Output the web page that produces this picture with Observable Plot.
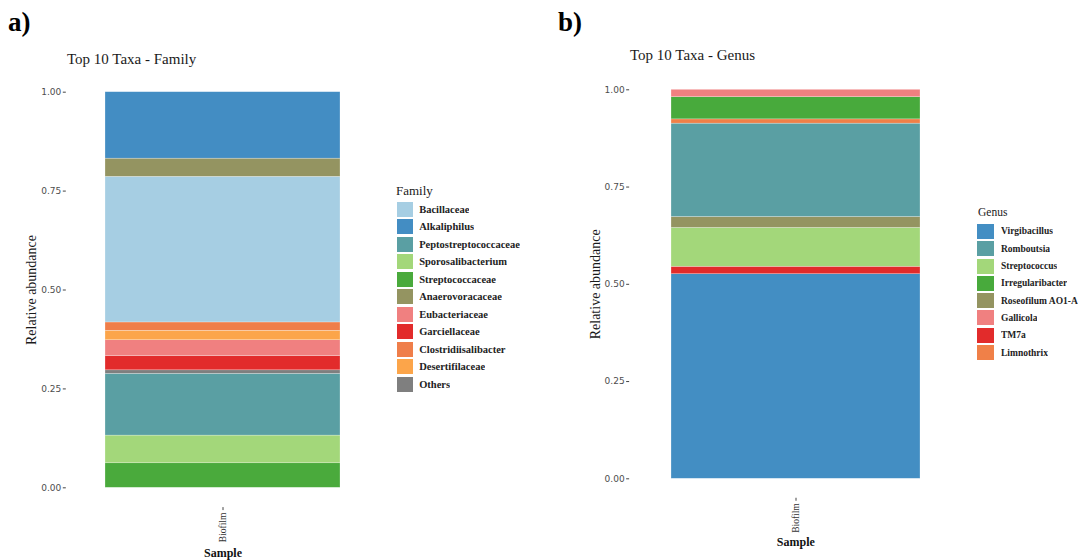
<!DOCTYPE html>
<html>
<head>
<meta charset="utf-8">
<script src="https://cdn.jsdelivr.net/npm/d3@7"></script>
<script src="https://cdn.jsdelivr.net/npm/@observablehq/plot@0.6"></script>
<style>
  body { margin: 0; background: #fff; }
  #page { position: relative; width: 1083px; height: 560px; overflow: hidden; font-family: "Liberation Serif", serif; background: #fff; }
  .abs { position: absolute; white-space: nowrap; }
  .panel-label { font-weight: bold; font-size: 27px; line-height: 27px; color: #000; }
  .title { font-size: 15px; line-height: 15px; color: #1a1a1a; }
  .legtitle { color: #1a1a1a; }
  [aria-label="y-axis label"] { font-family: "Liberation Serif", serif; font-size: 14px; fill: #1a1a1a; }
  [aria-label="x-axis label"] { font-family: "Liberation Serif", serif; font-size: 12px; font-weight: bold; fill: #111; }
  [aria-label="x-axis tick label"] { font-family: "Liberation Serif", serif; font-size: 9.5px; fill: #333; }
  .lega-swatches, .legb-swatches { margin: 0 !important; font-family: "Liberation Serif", serif; font-weight: bold; color: #222; }
  .lega-swatches { font-size: 10.5px; }
  .legb-swatches { font-size: 9.5px; }
  .lega-swatch { height: 17.5px; padding-bottom: 0 !important; }
  .legb-swatch { height: 17.3px; padding-bottom: 0 !important; }
  .lega-swatch > svg { margin-right: 6.5px; }
  .legb-swatch > svg { margin-right: 7px; }
</style>
</head>
<body>
<div id="page">
  <div class="abs panel-label" style="left:8px; top:9px;">a)</div>
  <div class="abs panel-label" style="left:558px; top:9px;">b)</div>
  <div class="abs title" style="left:67px; top:51.5px;">Top 10 Taxa - Family</div>
  <div class="abs title" style="left:630px; top:48px;">Top 10 Taxa - Genus</div>
  <div id="chartA" class="abs" style="left:0px; top:0px;"></div>
  <div id="chartB" class="abs" style="left:560px; top:0px;"></div>
  <div class="abs legtitle" style="left:396px; top:183.5px; font-size:13px; line-height:13px;">Family</div>
  <div class="abs legtitle" style="left:978px; top:207px; font-size:11.5px; line-height:11.5px;">Genus</div>
  <div id="legA" class="abs" style="left:396.7px; top:200.5px;"></div>
  <div id="legB" class="abs" style="left:977px; top:222.8px;"></div>
</div>
<script>
// ---- data ----
const sampleName = ["Biofilm"];
const yTicks = [0, 0.25, 0.5, 0.75, 1];

const familyNames = ["Bacillaceae", "Alkaliphilus", "Peptostreptococcaceae", "Sporosalibacterium", "Streptococcaceae", "Anaerovoracaceae", "Eubacteriaceae", "Garciellaceae", "Clostridiisalibacter", "Desertifilaceae", "Others"];
const familyValues = [0.368, 0.168, 0.156, 0.070, 0.062, 0.046, 0.040, 0.036, 0.021, 0.024, 0.009];
const familyColors = ["#a6cee3", "#438dc3", "#5a9fa3", "#a3d77a", "#4aaa3c", "#949461", "#f08080", "#e22b2b", "#ef7e4a", "#fca54a", "#7f7f7f"];

const genusNames = ["Virgibacillus", "Romboutsia", "Streptococcus", "Irregularibacter", "Roseofilum AO1-A", "Gallicola", "TM7a", "Limnothrix"];
const genusValues = [0.526, 0.240, 0.100, 0.057, 0.028, 0.019, 0.019, 0.011];
const genusColors = ["#438ec3", "#5a9fa3", "#a3d77a", "#48aa3c", "#949461", "#f08080", "#e22b2b", "#f08048"];

// rows stacked alphabetically from the top (bottom = last alphabetically)
function buildRows(names, values) {
  return names.map((n, i) => ({sample: sampleName[0], taxon: n, value: values[i]}))
    .sort((a, b) => d3.descending(a.taxon, b.taxon));
}

function makeChart(cfg) {
  return Plot.plot({
    width: cfg.width,
    height: 560,
    marginLeft: cfg.marginLeft,
    marginRight: cfg.marginRight,
    marginTop: cfg.marginTop,
    marginBottom: cfg.marginBottom,
    style: {fontFamily: "DejaVu Sans, sans-serif", fontSize: "9px", color: "#4d4d4d", background: "transparent", overflow: "visible"},
    x: {domain: sampleName, paddingInner: 0, paddingOuter: 1 / 6, axis: null},
    y: {domain: [-0.05, 1.05], axis: null},
    color: {domain: cfg.names, range: cfg.colors},
    marks: [
      Plot.barY(buildRows(cfg.names, cfg.values), {
        x: "sample", y: "value", fill: "taxon",
        stroke: "#ffffff", strokeWidth: 0.5, strokeOpacity: 0.5
      }),
      Plot.axisY({
        ticks: yTicks, tickFormat: d3.format(".2f"), tickSize: 3, tickPadding: 2,
        stroke: "#444", label: "Relative abundance", labelArrow: "none",
        labelAnchor: "center", labelOffset: cfg.yLabelOffset
      }),
      Plot.axisX({
        tickSize: 3, tickPadding: 2, tickRotate: -90, stroke: "#444",
        label: "Sample", labelArrow: "none", labelAnchor: "center", labelOffset: cfg.xLabelOffset
      })
    ]
  });
}

document.getElementById("chartA").append(makeChart({
  names: familyNames, values: familyValues, colors: familyColors,
  width: 390, marginLeft: 65.8, marginRight: 10.8, marginTop: 71.9, marginBottom: 52.9,
  yLabelOffset: 40, xLabelOffset: 49
}));

document.getElementById("chartB").append(makeChart({
  names: genusNames, values: genusValues, colors: genusColors,
  width: 420, marginLeft: 69.15, marginRight: 18.45, marginTop: 69.85, marginBottom: 62.25,
  yLabelOffset: 40, xLabelOffset: 48
}));

document.getElementById("legA").append(Plot.legend({
  color: {domain: familyNames, range: familyColors},
  legend: "swatches", columns: 1, swatchWidth: 16, swatchHeight: 15, className: "lega"
}));

document.getElementById("legB").append(Plot.legend({
  color: {domain: genusNames, range: genusColors},
  legend: "swatches", columns: 1, swatchWidth: 17, swatchHeight: 15, className: "legb"
}));
</script>
</body>
</html>
